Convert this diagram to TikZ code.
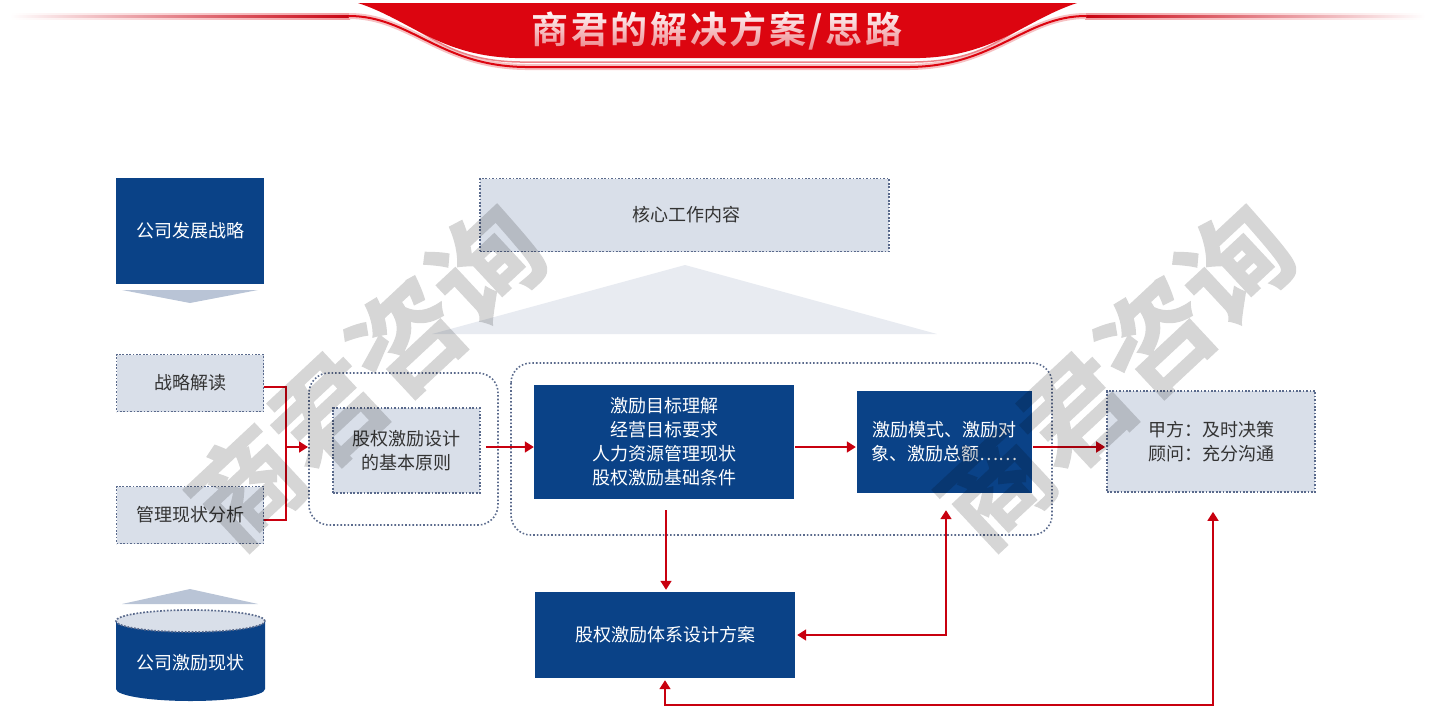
\documentclass[tikz,border=0pt]{standalone}
\usepackage{fontspec}
\setmainfont{Noto Sans CJK SC}
\newfontfamily\wmfont[FakeBold=1.4]{Noto Sans CJK SC Bold}
\newfontfamily\titlefont[LetterSpace=7]{Noto Sans CJK SC Bold}
\usetikzlibrary{arrows.meta,fadings,calc}
\definecolor{navy}{HTML}{0A4287}
\definecolor{pale}{HTML}{D9DFE9}
\definecolor{dots}{HTML}{5A6A8C}
\definecolor{redline}{HTML}{C8000F}
\definecolor{banner}{HTML}{DC0510}
\definecolor{tri}{HTML}{B9C4D6}
\definecolor{bigtri}{HTML}{E8EBF1}
\definecolor{ink}{HTML}{333333}
\tikzset{
  navybox/.style={fill=navy,text=white,align=center,inner sep=0pt,font=\fontsize{18}{24}\selectfont},
  palebox/.style={fill=pale,draw=dots,line width=1.7pt,dash pattern=on 1.7pt off 1.7pt,text=ink,align=center,inner sep=0pt,font=\fontsize{18}{24}\selectfont},
  container/.style={draw=dots,line width=1.6pt,dash pattern=on 1.6pt off 2pt,rounded corners=20pt},
  conn/.style={draw=redline,line width=1.7pt,-{Triangle[length=9pt,width=11pt]}},
  plainconn/.style={draw=redline,line width=1.7pt},
  twoway/.style={draw=redline,line width=1.7pt,{Triangle[length=9pt,width=11pt]}-{Triangle[length=9pt,width=11pt]}},
  watermark/.style={text=black,rotate=43,inner sep=0pt,font=\wmfont\fontsize{109}{109}\selectfont},
}
\begin{document}
\begin{tikzpicture}[x=1pt,y=-1pt]
\useasboundingbox (0,0) rectangle (1435,707);
% banner
\shade[left color=white,right color=banner!40] (10,13) rectangle (350,19);
\shade[left color=white,right color=redline] (10,15) rectangle (350,17);
\shade[right color=white,left color=banner!40] (1085,13) rectangle (1425,19);
\shade[right color=white,left color=redline] (1085,15) rectangle (1425,17);
\draw[banner!25,line width=6pt] (349,16) .. controls (410,16) and (440,66) .. (525,67) -- (910,67) .. controls (995,66) and (1025,16) .. (1086,16);
\draw[banner,line width=2pt] (349,16) .. controls (410,16) and (440,66) .. (525,67) -- (910,67) .. controls (995,66) and (1025,16) .. (1086,16);
\draw[banner!50,line width=1.5pt] (385,13) .. controls (425,28) and (445,61) .. (520,62) -- (915,62) .. controls (990,61) and (1010,28) .. (1050,13);
\fill[banner] (358,3) .. controls (410,20) and (440,56) .. (515,58) -- (920,58) .. controls (995,56) and (1025,20) .. (1077,3) -- cycle;
\node[text=white,inner sep=0pt,font=\titlefont\fontsize{37}{37}\selectfont] (title) at (717,31) {商君的解决方案/思路};
\fill[banner,path fading=north,fill opacity=.55] (525,10) rectangle (910,54);
% left column
\node[navybox,minimum width=148pt,minimum height=106pt] (s1) at (190,231) {公司发展战略};
\fill[tri] (122,290) -- (258,290) -- (190,303) -- cycle;
\node[palebox,minimum width=147pt,minimum height=57pt] (s2) at (190,383) {战略解读};
\node[palebox,minimum width=147pt,minimum height=57pt] (s3) at (190,515) {管理现状分析};
\fill[tri] (122,604) -- (258,604) -- (190,589) -- cycle;
\fill[navy] (116,621) -- (116,689) arc[start angle=180,end angle=360,x radius=74.5pt,y radius=12pt] -- (265,621) -- cycle;
\draw[fill=pale,draw=dots,line width=1.7pt,dash pattern=on 1.7pt off 1.7pt] (190.5,621) ellipse[x radius=74.5pt,y radius=11pt];
\node[text=white,inner sep=0pt,font=\fontsize{18}{24}\selectfont] (s4) at (190.5,662.5) {公司激励现状};
% top centre
\node[palebox,minimum width=409pt,minimum height=73pt] (core) at (684.5,215) {\hspace*{3pt}核心工作内容};
\fill[bigtri] (432,334) -- (685,265) -- (937,334) -- cycle;
% containers
\draw[container] (309,373) rectangle (498,525);
\draw[container] (511,363) rectangle (1052,535);
% boxes
\node[palebox,minimum width=147pt,minimum height=85pt] (p) at (406.5,450.5) {股权激励设计\\的基本原则};
\node[navybox,minimum width=260pt,minimum height=114pt] (c) at (664,442) {激励目标理解\\经营目标要求\\人力资源管理现状\\股权激励基础条件};
\node[navybox,minimum width=175pt,minimum height=102pt] (d) at (944.5,442) {激励模式、激励对\\象、激励总额……};
\node[palebox,minimum width=208pt,minimum height=101pt] (r) at (1211,441.5) {甲方：及时决策\\顾问：充分沟通};
\node[navybox,minimum width=260pt,minimum height=86pt] (e) at (665,635) {股权激励体系设计方案};
% connectors
\coordinate (j) at (286,447);
\coordinate (jt) at (308,447);
\draw[plainconn] (s2.east |- 0,387) -| (j);
\draw[plainconn] (s3.east |- 0,520) -| (j);
\draw[conn] (j) -- (jt);
\draw[conn,shorten <=5pt] (p.east |- jt) -- (c.west |- jt);
\draw[conn,shorten <=1pt,shorten >=1pt] (c.east |- jt) -- (d.west |- jt);
\draw[conn,shorten <=1pt,shorten >=1pt] (d.east |- jt) -- (r.west |- jt);
\draw[conn,shorten <=11pt,shorten >=2pt] (666,0 |- c.south) -- (666,0 |- e.north);
\coordinate (de) at (946,635);
\draw[twoway,shorten <=2pt,shorten >=17pt] (e.east |- de) -- (de) -- (946,0 |- d.south);
\coordinate (bl) at (665,705);
\coordinate (br) at (1213,705);
\draw[twoway,shorten <=2pt,shorten >=19pt] (e.south) -- (bl) -- (br) -- (1213,0 |- r.south);
% watermarks
\begin{scope}[transparency group,opacity=.16]
\node[watermark] (w1) at (366,375) {商君咨询};
\node[watermark] (w2) at (1115,375) {商君咨询};
\end{scope}
\end{tikzpicture}
\end{document}
